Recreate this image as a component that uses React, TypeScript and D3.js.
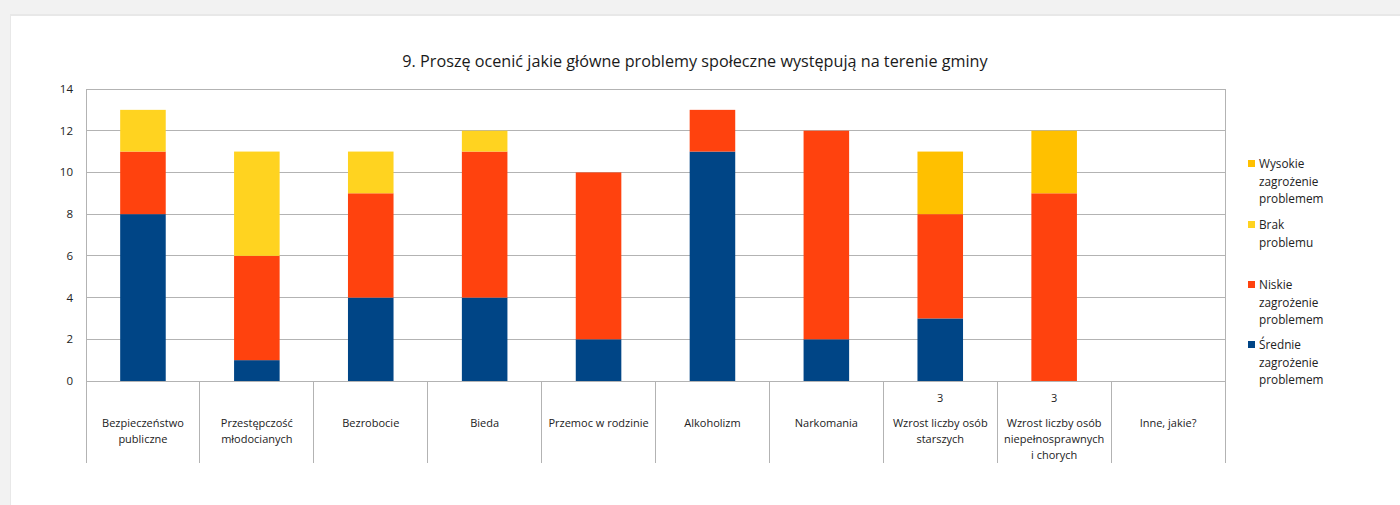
import React, { useEffect, useRef } from 'react';
import * as d3 from 'd3';

const title = '9. Proszę ocenić jakie główne problemy społeczne występują na terenie gminy';

const categories = [
  ['Bezpieczeństwo', 'publiczne'],
  ['Przestępczość', 'młodocianych'],
  ['Bezrobocie'],
  ['Bieda'],
  ['Przemoc w rodzinie'],
  ['Alkoholizm'],
  ['Narkomania'],
  ['Wzrost liczby osób', 'starszych'],
  ['Wzrost liczby osób', 'niepełnosprawnych', 'i chorych'],
  ['Inne, jakie?'],
];

// stacked bottom -> top
const srednie = [8, 1, 4, 4, 2, 11, 2, 3, 0, 0];
const niskie = [3, 5, 5, 7, 8, 2, 10, 5, 9, 0];
const brak = [2, 5, 2, 1, 0, 0, 0, 0, 0, 0];
const wysokie = [0, 0, 0, 0, 0, 0, 0, 3, 3, 0];

// stray data labels shown in the axis area
const axisNotes = ['', '', '', '', '', '', '', '3', '3', ''];

const seriesNames = ['Średnie zagrożenie problemem', 'Niskie zagrożenie problemem', 'Brak problemu', 'Wysokie zagrożenie problemem'];
const seriesColors = ['#004586', '#ff420e', '#ffd320', '#ffc000'];
const yTicks = [0, 2, 4, 6, 8, 10, 12, 14];

const legendItems = [
  { name: ['Wysokie', 'zagrożenie', 'problemem'], color: '#ffc000' },
  { name: ['Brak', 'problemu'], color: '#ffd320' },
  { name: ['Niskie', 'zagrożenie', 'problemem'], color: '#ff420e' },
  { name: ['Średnie', 'zagrożenie', 'problemem'], color: '#004586' },
];

const W = 1400;
const H = 505;
const font = '"Open Sans", "Noto Sans", sans-serif';

const App = () => {
  const ref = useRef<SVGSVGElement>(null);

  useEffect(() => {
    const svg = d3.select(ref.current);
    svg.selectAll('*').remove();

    // page background + card
    svg.append('rect').attr('width', W).attr('height', H).attr('fill', '#f2f2f2');
    svg.append('rect').attr('x', 10).attr('y', 14).attr('width', W - 10).attr('height', H - 14).attr('fill', '#e8e8e8');
    svg.append('rect').attr('x', 11).attr('y', 16).attr('width', W - 11).attr('height', H - 16).attr('fill', '#ffffff');

    const left = 86, right = 1225, top = 89, bottom = 381, labelBottom = 463;

    const x = d3.scaleBand<number>().domain(d3.range(categories.length)).range([left, right]);
    const y = d3.scaleLinear().domain([0, 14]).range([bottom, top]);
    const barW = x.bandwidth() * 0.4;

    svg.append('text')
      .attr('x', 695).attr('y', 67)
      .attr('text-anchor', 'middle')
      .attr('font-family', font).attr('font-size', 16.2)
      .attr('fill', '#1a1a1a')
      .text(title);

    // gridlines
    svg.append('g').selectAll('line').data(yTicks).enter().append('line')
      .attr('x1', left).attr('x2', right)
      .attr('y1', d => y(d)).attr('y2', d => y(d))
      .attr('stroke', '#b3b3b3').attr('stroke-width', 1).attr('shape-rendering', 'crispEdges');

    // plot frame
    svg.append('rect')
      .attr('x', left).attr('y', top).attr('width', right - left).attr('height', bottom - top)
      .attr('fill', 'none').attr('stroke', '#b3b3b3').attr('shape-rendering', 'crispEdges');

    // category separators
    svg.append('g').selectAll('line').data(d3.range(categories.length + 1)).enter().append('line')
      .attr('x1', d => left + d * x.step()).attr('x2', d => left + d * x.step())
      .attr('y1', bottom).attr('y2', labelBottom)
      .attr('stroke', '#b3b3b3').attr('shape-rendering', 'crispEdges');

    // y labels
    svg.append('g').selectAll('text').data(yTicks).enter().append('text')
      .attr('x', 73).attr('y', d => y(d) + 4)
      .attr('text-anchor', 'end')
      .attr('font-family', font).attr('font-size', 11.5)
      .attr('fill', '#222')
      .text(d => d);

    // stacked bars
    const rows = categories.map((_, i) => ({ i, s0: srednie[i], s1: niskie[i], s2: brak[i], s3: wysokie[i] }));
    const stack = d3.stack<any>().keys(['s0', 's1', 's2', 's3'])(rows);
    stack.forEach((layer, k) => {
      svg.append('g').selectAll('rect').data(layer).enter().append('rect')
        .attr('x', d => (x(d.data.i) as number) + (x.bandwidth() - barW) / 2)
        .attr('width', barW)
        .attr('y', d => y(d[1]))
        .attr('height', d => y(d[0]) - y(d[1]))
        .attr('fill', seriesColors[k]);
    });

    // category labels
    const cat = svg.append('g').selectAll('text').data(categories).enter().append('text')
      .attr('text-anchor', 'middle')
      .attr('font-family', font).attr('font-size', 11)
      .attr('fill', '#222');
    cat.each(function (lines, i) {
      const t = d3.select(this);
      lines.forEach((ln, j) => {
        t.append('tspan')
          .attr('x', (x(i) as number) + x.bandwidth() / 2)
          .attr('y', 427 + j * 16)
          .text(ln);
      });
    });

    svg.append('g').selectAll('text').data(axisNotes).enter().append('text')
      .attr('x', (_, i) => (x(i) as number) + x.bandwidth() / 2)
      .attr('y', 402)
      .attr('text-anchor', 'middle')
      .attr('font-family', font).attr('font-size', 11)
      .attr('fill', '#222')
      .text(d => d);

    // legend
    const legendY = [164, 225, 285, 345];
    legendItems.forEach((it, k) => {
      const g = svg.append('g');
      g.append('rect').attr('x', 1248).attr('y', legendY[k] - 4).attr('width', 7).attr('height', 7).attr('fill', it.color);
      it.name.forEach((ln, j) => {
        g.append('text')
          .attr('x', 1259).attr('y', legendY[k] + 4 + j * 17.5)
          .attr('font-family', font).attr('font-size', 11.8)
          .attr('fill', '#222')
          .text(ln);
      });
    });
  }, []);

  return (
    <div style={{ position: 'absolute', left: 0, top: 0 }}>
      <svg ref={ref} width={W} height={H} style={{ display: 'block' }} aria-label={seriesNames.join(', ')}></svg>
    </div>
  );
};

export default App;
